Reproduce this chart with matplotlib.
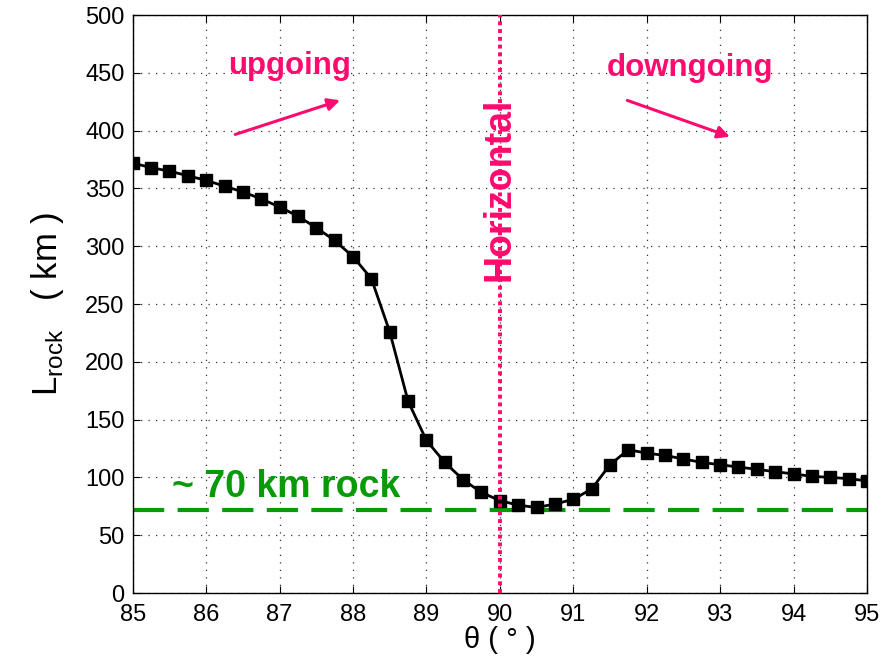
import numpy as np
import matplotlib.pyplot as plt

plt.rcParams['font.family'] = ['Liberation Sans', 'DejaVu Sans']

# zenith angle (deg) and rock path length (km)
theta = [85.0, 85.25, 85.5, 85.75, 86.0, 86.25, 86.5, 86.75, 87.0, 87.25,
         87.5, 87.75, 88.0, 88.25, 88.5, 88.75, 89.0, 89.25, 89.5, 89.75,
         90.0, 90.25, 90.5, 90.75, 91.0, 91.25, 91.5, 91.75, 92.0, 92.25,
         92.5, 92.75, 93.0, 93.25, 93.5, 93.75, 94.0, 94.25, 94.5, 94.75, 95.0]
l_rock = [372, 368, 365, 361, 357, 352, 347, 341, 334, 326,
          316, 305, 291, 272, 226, 166, 132, 113, 98, 87,
          80, 76, 74, 77, 81, 90, 111, 124, 121, 119,
          116, 113, 111, 109, 107, 105, 103, 101, 100, 99, 97]
rock_level = 72

pink = '#ff0a6e'
green = '#089a08'

fig = plt.figure(figsize=(8.91, 6.56), dpi=100)
ax = fig.add_axes([0.149, 0.096, 0.824, 0.881])

ax.plot(theta, l_rock, color='black', lw=2, marker='s', ms=8, zorder=3)
ax.axhline(rock_level, color=green, lw=3, ls=(0, (7.5, 3.2)), zorder=2)
ax.axvline(90, color=pink, lw=2.8, ls=(0, (1, 1)), zorder=4)

ax.text(90, 349, 'Horizontal', rotation=90, color=pink, fontsize=27,
        fontweight='bold', ha='center', va='center', zorder=5)
ax.text(87.14, 456, 'upgoing', color=pink, fontsize=22.5, fontweight='bold',
        ha='center', va='center')
ax.text(92.59, 454, 'downgoing', color=pink, fontsize=22.5, fontweight='bold',
        ha='center', va='center')
ax.text(85.53, 92, '~ 70 km rock', color=green, fontsize=27, fontweight='bold',
        ha='left', va='center')

ax.annotate('', xy=(87.86, 427), xytext=(86.36, 396),
            arrowprops=dict(arrowstyle='-|>', color=pink, lw=2.2,
                            mutation_scale=18))
ax.annotate('', xy=(93.17, 394), xytext=(91.70, 427),
            arrowprops=dict(arrowstyle='-|>', color=pink, lw=2.2,
                            mutation_scale=18))

ax.set_xlim(85, 95)
ax.set_ylim(0, 500)
ax.set_xticks(np.arange(85, 96, 1))
ax.set_yticks(np.arange(0, 501, 50))
ax.grid(True, color='#333333', ls=(0, (1, 5)), lw=0.9)
ax.tick_params(labelsize=17, direction='in', length=5, top=True, right=True)
ax.tick_params(axis='x', pad=8)
ax.tick_params(axis='y', pad=6)
for s in ax.spines.values():
    s.set_linewidth(1)

ax.set_xlabel('θ ( ° )', fontsize=21, labelpad=0)
ax.set_ylabel(r'L$_{\mathregular{rock}}$   ( km )', fontsize=25, labelpad=14)

fig.savefig('out.png', dpi=100)
